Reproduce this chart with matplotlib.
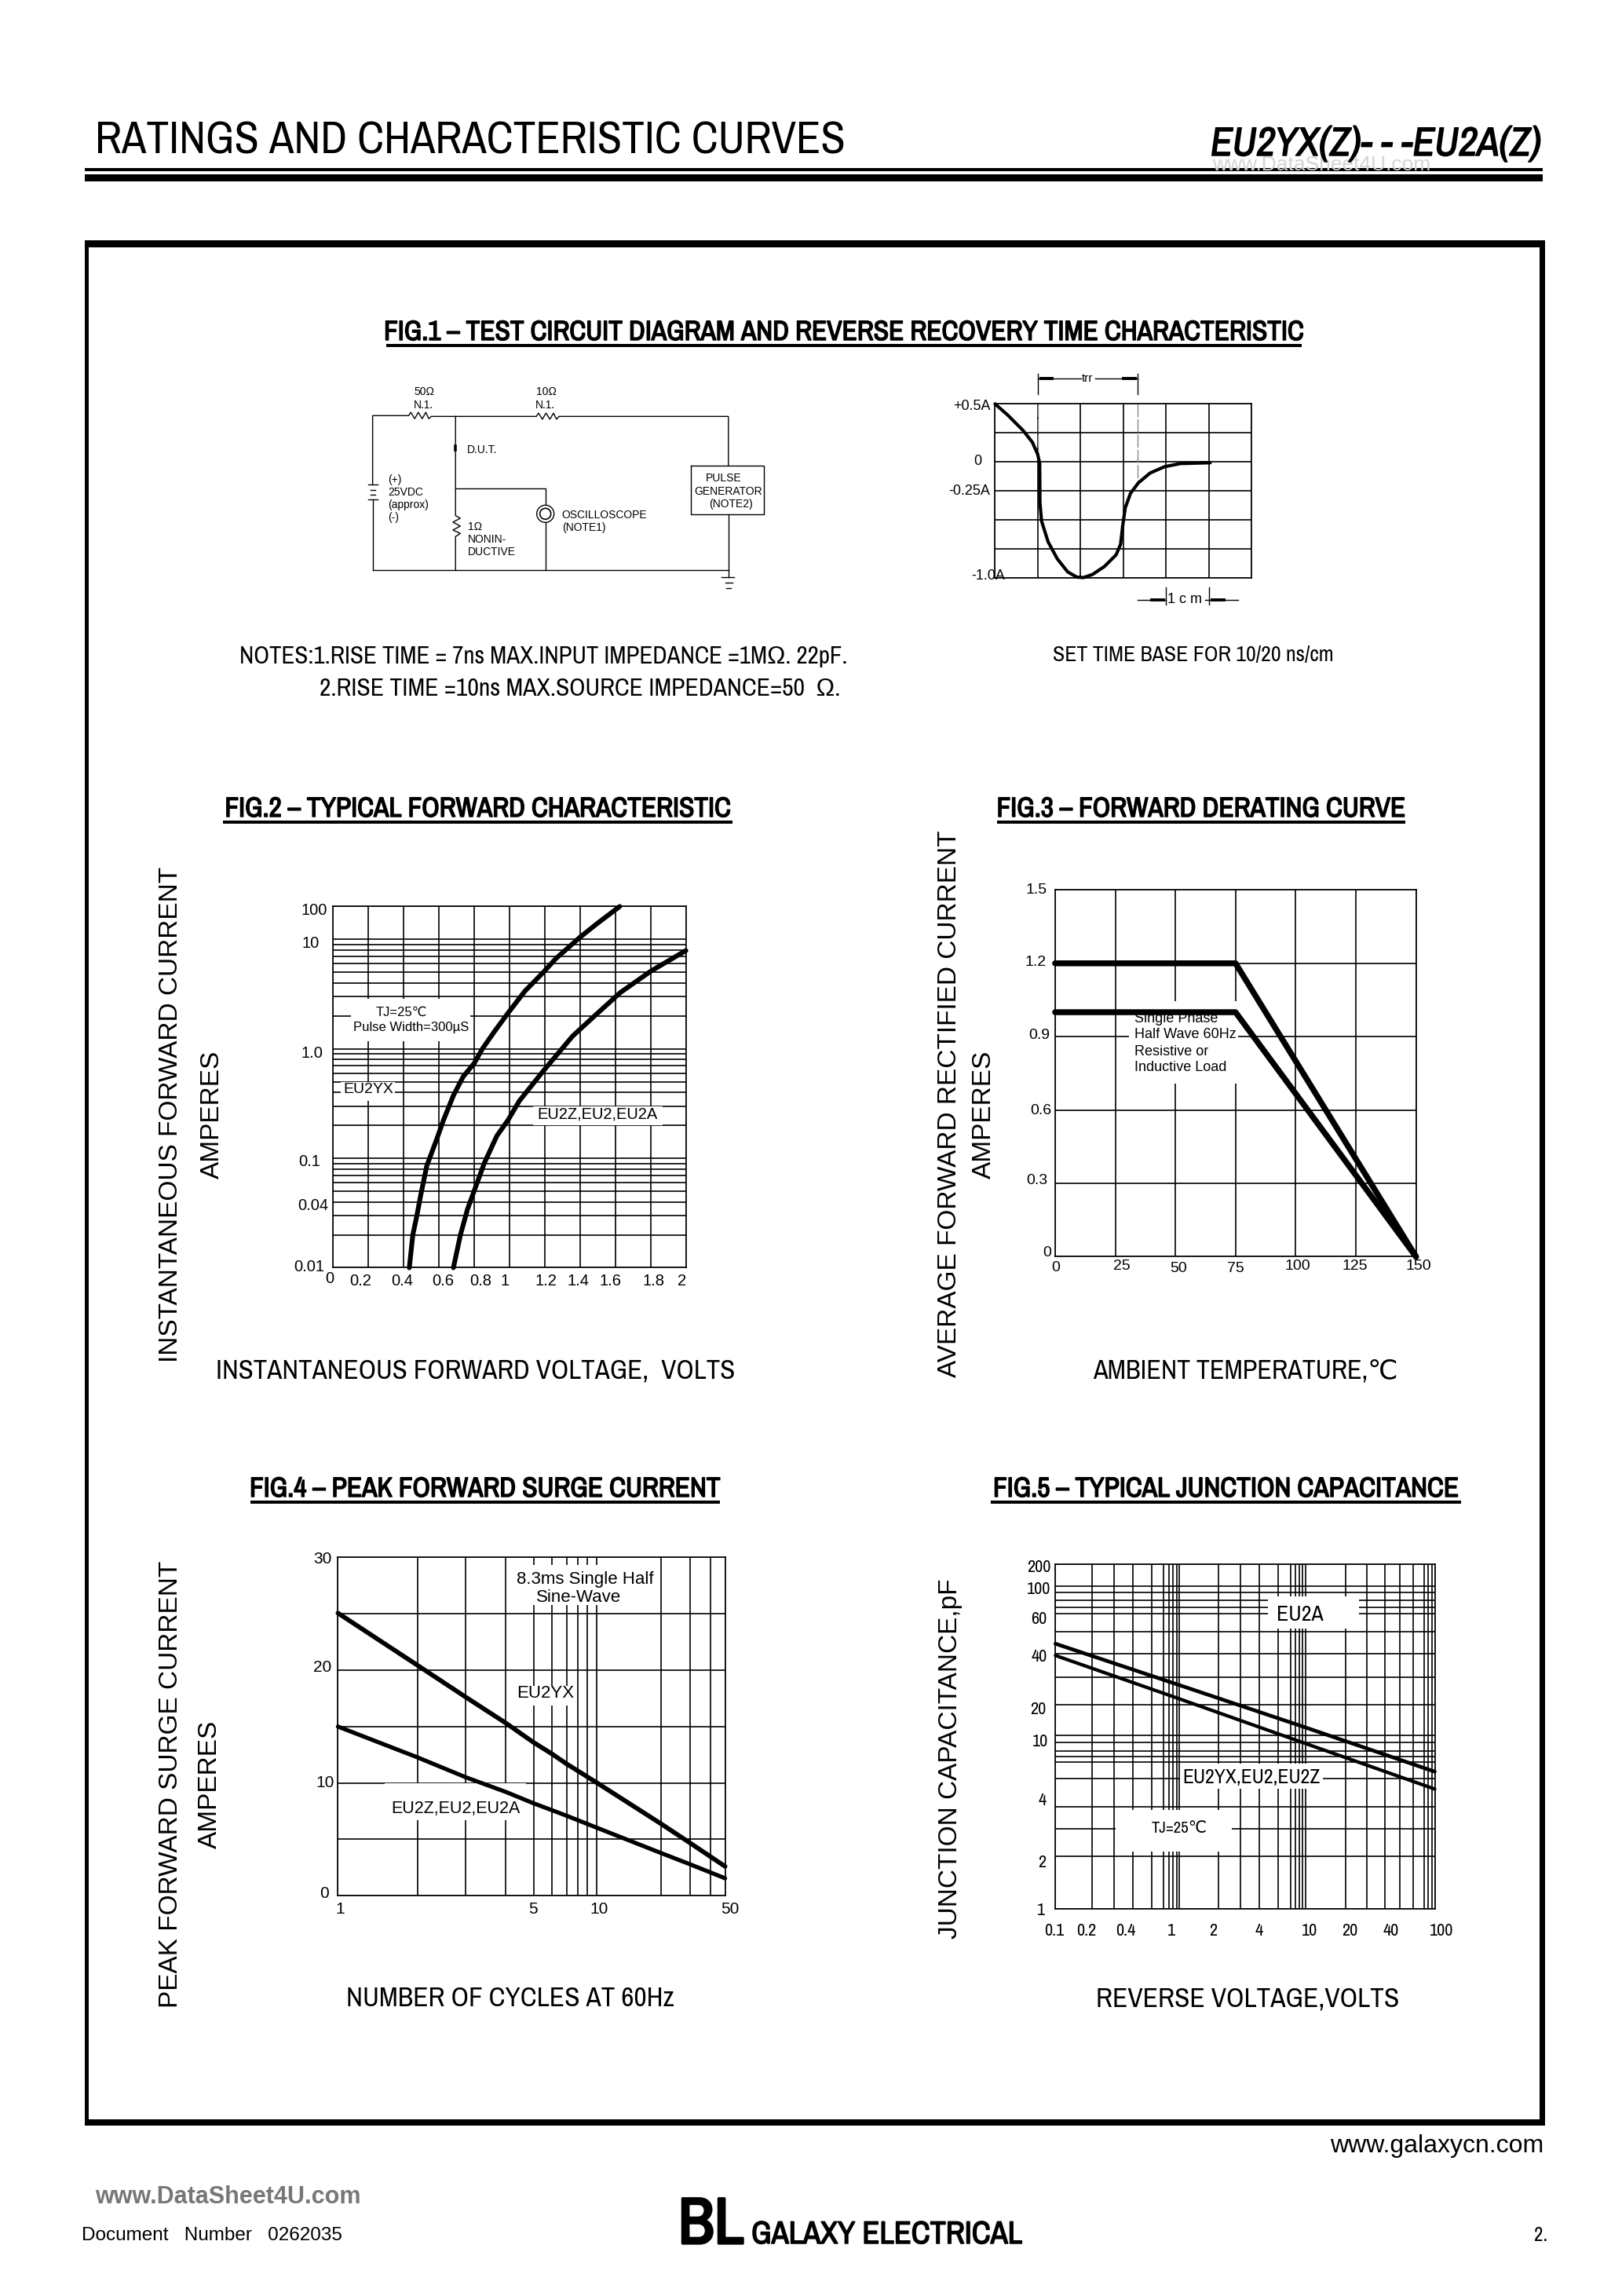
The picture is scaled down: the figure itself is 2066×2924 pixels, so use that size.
#datasheet page - ratings and characteristic curves
import numpy as np
import matplotlib
matplotlib.use('Agg')
from matplotlib import pyplot as plt
from matplotlib import patheffects as pe
from matplotlib.patches import Rectangle, Ellipse
from matplotlib.transforms import Affine2D

plt.rcParams['font.family'] = ['Liberation Sans', 'DejaVu Sans']
SANS = ['Liberation Sans', 'DejaVu Sans']
NARROW = ['Archivo Narrow', 'Liberation Sans', 'DejaVu Sans']

#fig.1 reverse recovery waveform (cm, amps)
wave_x = [0, .294, .66, .875, .997, 1.046, 1.052, 1.088, 1.242, 1.456, 1.70, 1.914, 2.067,
          2.281, 2.557, 2.83, 2.936, 2.985, 3.046, 3.168, 3.352, 3.627, 3.963, 4.33, 5.03]
wave_y = [.5, .405, .27, .169, .068, -.011, -.349, -.507, -.687, -.833, -.946, -.991, -.995,
          -.968, -.90, -.80, -.709, -.552, -.394, -.27, -.18, -.095, -.041, -.014, -.007]
wave_yticks = [.5, .25, 0, -.25, -.5, -.75, -1.0]
wave_ylabels = ['+0.5A', '', '0', '-0.25A', '', '', '-1.0A']

#fig.2 forward characteristic
yx_volts = [.432, .452, .475, .496, .531, .591, .626, .682, .738, .801, .846, .913, .992,
            1.087, 1.191, 1.262, 1.397, 1.493, 1.625]
yx_amps = [.01, .02, .03, .0455, .0853, .155, .224, .375, .56, .743, 1.0, 1.43, 2.13,
           3.37, 5.0, 6.67, 11.4, 29.3, 100]
za_volts = [.682, .722, .762, .801, .857, .928, .992, 1.056, 1.191, 1.358, 1.485, 1.628, 1.803, 2.0]
za_amps = [.01, .02, .0343, .051, .0902, .16, .224, .335, .627, 1.31, 2.02, 3.27, 5.16, 7.92]
f2_xticks = [0, .2, .4, .6, .8, 1, 1.2, 1.4, 1.6, 1.8, 2]
f2_xlabels = ['0', '0.2', '0.4', '0.6', '0.8', '1', '1.2', '1.4', '1.6', '1.8', '2']
f2_yticks = [.01, .04, .1, 1, 10, 100]
f2_ylabels = ['0.01', '0.04', '0.1', '1.0', '10', '100']

#fig.3 derating
temp = [0, 75, 150]
derate_high = [1.2, 1.2, 0]
derate_low = [1.0, 1.0, 0]
f3_xticks = [0, 25, 50, 75, 100, 125, 150]
f3_yticks = [0, .3, .6, .9, 1.2, 1.5]
f3_ylabels = ['0', '0.3', '0.6', '0.9', '1.2', '1.5']

#fig.4 surge current
cycles = [1, 2, 3, 4, 5, 6, 7, 10, 20, 30, 50]
surge_yx = [25.06, 20.4, 17.6, 15.3, 13.6, 12.6, 11.7, 10.05, 6.4, 4.7, 2.6]
surge_za = [15.0, 12.25, 10.5, 9.2, 8.2, 7.6, 7.1, 6.05, 3.8, 2.8, 1.55]
f4_xticks = [1, 5, 10, 50]
f4_yticks = [0, 10, 20, 30]

#fig.5 junction capacitance
volts = [.1, 1, 10, 100]
cap_a = [44.4, 27, 12.4, 5.44]
cap_yx = [39.1, 22, 8.9, 4.64]
f5_xticks = [.1, .2, .4, 1, 2, 4, 10, 20, 40, 100]
f5_xlabels = ['0.1', '0.2', '0.4', '1', '2', '4', '10', '20', '40', '100']
f5_yticks = [1, 2, 4, 10, 20, 40, 60, 100, 200]

#the printed grids are not true log spacing, so keep where each line sits (px from the axis)
f4_x_vals = [1, 2, 3, 4, 5, 6, 7, 8, 9, 10, 20, 30, 40, 50]
f4_x_pos = [0, 102, 163, 214, 249, 272, 291, 305, 317, 329, 411, 448, 474, 493]
f5_x_vals = [.1, .2, .3, .4, .5, .6, .7, .8, .9, 1, 2, 3, 4, 5, 6, 7, 8, 9, 10,
             20, 30, 40, 50, 60, 70, 80, 90, 100]
f5_x_pos = [0, 47, 75, 99, 123, 138, 145, 150, 155, 158, 208, 236, 260, 284, 300, 306, 311,
            315, 319, 370, 397, 420, 439, 456, 470, 475, 480, 483]
f5_y_vals = [1, 2, 3, 4, 5, 6, 7, 8, 9, 10, 20, 30, 40, 50, 60, 70, 80, 90, 100, 200]
f5_y_pos = [0, 67, 102, 130, 166, 187, 194, 201, 212, 222, 261, 296, 326, 354, 377, 385, 394,
            404, 412, 440]

#page setup, everything placed in reference pixels
W, H = 2066, 2924
GRID = 1.2
fig = plt.figure(figsize=(W / 100, H / 100), dpi=100, facecolor='white')
page = fig.add_axes([0, 0, 1, 1])
page.set_xlim(0, W)
page.set_ylim(H, 0)
page.axis('off')
page.set_zorder(10)
#archivo narrow only comes in one weight here, so thicken it with a stroke for the bold text
heavy = [pe.withStroke(linewidth=1.1, foreground='black')]


def txt(x, y, s, size, ha='center', va='center', family=NARROW, **kw):
    return page.text(x, y, s, fontsize=size, ha=ha, va=va, family=family, **kw)


def bar(x0, x1, y0, y1):
    page.add_patch(Rectangle((x0, y0), x1 - x0, y1 - y0, fc='black', ec='none'))


def chart(left, right, top, bottom):
    ax = fig.add_axes([left / W, 1 - bottom / H, (right - left) / W, (bottom - top) / H])
    ax.set_axisbelow(True)
    for s in ax.spines.values():
        s.set_linewidth(GRID)
    return ax


def finish(ax, xoffs, yoffs, size, family=SANS):
    #turn the ticks into bare grid lines and nudge each label to where it was printed
    ax.grid(True, which='both', color='black', lw=GRID)
    ax.tick_params(which='both', length=0, pad=0)
    for lab, (dx, dy) in zip(ax.get_xticklabels(), xoffs):
        lab.set_fontsize(size)
        lab.set_family(family)
        lab.set_verticalalignment('center')
        lab.set_transform(lab.get_transform() + Affine2D().translate(dx, dy))
    for lab, (dx, dy) in zip(ax.get_yticklabels(), yoffs):
        lab.set_fontsize(size)
        lab.set_family(family)
        lab.set_transform(lab.get_transform() + Affine2D().translate(dx, dy))


def blank(ax, x0, x1, y0, y1):
    #white patch behind an in-chart note, cuts the grid but not the curves
    ax.add_patch(Rectangle((x0, y0), x1 - x0, y1 - y0, fc='white', ec='none', zorder=1,
                           transform=page.transData))


def knot_scale(vals, pos):
    return (lambda v: np.interp(v, vals, pos), lambda p: np.interp(p, pos, vals))


def curve(ax, x, y, lw):
    ax.plot(x, y, color='black', lw=lw, zorder=3, clip_on=False, solid_capstyle='round',
            solid_joinstyle='round')


#header
txt(121, 196, 'RATINGS AND CHARACTERISTIC CURVES', 41.3, ha='left', va='baseline')
txt(1544, 210, 'www.DataSheet4U.com', 19, ha='left', color='#d4d4d4', family=SANS)
txt(1542, 198, 'EU2YX(Z)- - -EU2A(Z)', 37, ha='left', va='baseline', style='italic', path_effects=heavy)
bar(108, 1965, 214, 218)
bar(108, 1965, 222, 231)

#outer box
bar(108, 1968, 306, 315)
bar(108, 1968, 2699, 2707)
bar(108, 113, 306, 2707)
bar(1961, 1968, 306, 2707)

#figure titles with their underlines
titles = [('FIG.1 – TEST CIRCUIT DIAGRAM AND REVERSE RECOVERY TIME CHARACTERISTIC', 492, 1658, 423),
          ('FIG.2 – TYPICAL FORWARD CHARACTERISTIC', 284, 933, 1030),
          ('FIG.3 – FORWARD DERATING CURVE', 1270, 1790, 1030),
          ('FIG.4 – PEAK FORWARD SURGE CURRENT', 319, 917, 1896),
          ('FIG.5 – TYPICAL JUNCTION CAPACITANCE', 1262, 1861, 1896)]
for s, x0, x1, y in titles:
    txt((x0 + x1) / 2, y, s, 25.4, path_effects=heavy)
    bar(x0, x1, y + 15, y + 19)

#notes under fig.1
txt(692, 836, 'NOTES:1.RISE TIME = 7ns MAX.INPUT IMPEDANCE =1MΩ. 22pF.', 22.3)
txt(739, 877, '2.RISE TIME =10ns MAX.SOURCE IMPEDANCE=50  Ω.', 22.8)
txt(1520, 834, 'SET TIME BASE FOR 10/20 ns/cm', 20)

#axis titles
txt(218, 1419, 'INSTANTANEOUS FORWARD CURRENT', 24, rotation=90, family=SANS)
txt(270, 1419, 'AMPERES', 24, rotation=90, family=SANS)
txt(606, 1745, 'INSTANTANEOUS FORWARD VOLTAGE,  VOLTS', 25.1)
txt(1210, 1406, 'AVERAGE FORWARD RECTIFIED CURRENT', 24, rotation=90, family=SANS)
txt(1253, 1419, 'AMPERES', 24, rotation=90, family=SANS)
txt(1586, 1745, 'AMBIENT TEMPERATURE,℃', 24.6)
txt(218, 2272, 'PEAK FORWARD SURGE CURRENT', 24, rotation=90, family=SANS)
txt(267, 2272, 'AMPERES', 24, rotation=90, family=SANS)
txt(650, 2545, 'NUMBER OF CYCLES AT 60Hz', 25.4)
txt(1210, 2240, 'JUNCTION CAPACITANCE,pF', 24, rotation=90, family=SANS)
txt(1589, 2545, 'REVERSE VOLTAGE,VOLTS', 25.4)

#footer
txt(1966, 2733, 'www.galaxycn.com', 23, ha='right', family=SANS)
txt(121, 2798, 'www.DataSheet4U.com', 22, ha='left', color='#777777', family=SANS, weight='bold')
txt(104, 2847, 'Document   Number   0262035', 17.5, ha='left', family=SANS)
txt(864, 2857, 'BL', 60, ha='left', va='baseline', path_effects=[pe.withStroke(linewidth=2.4, foreground='black')])
txt(957, 2857, 'GALAXY ELECTRICAL', 29, ha='left', va='baseline', path_effects=heavy)
txt(1971, 2847, '2.', 18, ha='right')


#fig.1 circuit diagram, traced in crop coordinates
def cz(x, y):
    return 400 + x / 2.613, 440 + y / 3


def wire(points, lw=1.0):
    xs, ys = zip(*[cz(*p) for p in points])
    page.plot(xs, ys, color='black', lw=lw, solid_joinstyle='miter')


wire([(195, 859), (195, 587)])
wire([(195, 532), (195, 268), (315, 268), (322, 255), (335, 280), (347, 255), (360, 280),
      (372, 255), (382, 280), (390, 271), (740, 271), (747, 258), (760, 282), (772, 258),
      (785, 282), (797, 258), (807, 282), (815, 271), (1379, 271), (1379, 460)])
wire([(1255, 460), (1498, 460), (1498, 646), (1255, 646), (1255, 460)])
wire([(1379, 646), (1379, 885)])
wire([(195, 859), (1379, 859)])
wire([(471, 271), (471, 650), (487, 660), (462, 675), (487, 690), (462, 705), (487, 718),
      (471, 730), (471, 859)])
wire([(471, 545), (770, 545), (770, 612)])
wire([(770, 675), (770, 859)])
wire([(180, 532), (212, 532)])
wire([(188, 553), (205, 553)])
wire([(188, 570), (205, 570)])
wire([(180, 587), (212, 587)])
wire([(1355, 885), (1398, 885)])
wire([(1368, 907), (1392, 907)])
wire([(1372, 926), (1388, 926)])
wire([(471, 384), (471, 398)], lw=2.6)
cx, cy = cz(770, 643)
page.add_patch(Ellipse((cx, cy), 22, 22, fc='white', ec='black', lw=1.0, zorder=3))
page.add_patch(Ellipse((cx, cy), 14, 14, fc='white', ec='black', lw=1.2, zorder=3))

circuit_labels = [('50Ω', 367, 178, 'center'), ('N.1.', 365, 227, 'center'),
                  ('10Ω', 772, 178, 'center'), ('N.1.', 770, 227, 'center'),
                  ('D.U.T.', 510, 400, 'left'), ('(+)', 245, 513, 'left'),
                  ('25VDC', 245, 560, 'left'), ('(approx)', 245, 608, 'left'),
                  ('(-)', 245, 657, 'left'), ('1Ω', 513, 693, 'left'),
                  ('NONIN-', 513, 742, 'left'), ('DUCTIVE', 513, 790, 'left'),
                  ('OSCILLOSCOPE', 825, 648, 'left'), ('(NOTE1)', 825, 697, 'left'),
                  ('PULSE', 1363, 507, 'center'), ('GENERATOR', 1378, 558, 'center'),
                  ('(NOTE2)', 1388, 605, 'center')]
for s, x, y, ha in circuit_labels:
    px, py = cz(x, y)
    txt(px, py, s, 10, ha=ha, family=SANS)

#fig.1 waveform
ax1 = chart(1267.3, 1594.3, 514.3, 736.3)
ax1.set_xlim(0, 6)
ax1.set_ylim(-1, .5)
ax1.set_xticks(range(7), labels=[''] * 7)
ax1.set_yticks(wave_yticks, labels=wave_ylabels)
finish(ax1, [(0, 0)] * 7, [(-6, -1), (0, 0), (-17, 3), (-6, 2), (0, 0), (0, 0), (13, 5)], 13)
curve(ax1, wave_x, wave_y, 3)
ax1.plot([1.009, 1.009], [.5, .07], color='#888888', lw=1.0, ls=(0, (12, 2)), zorder=2)
ax1.plot([3.34, 3.34], [.5, -.18], color='#888888', lw=1.0, ls=(0, (12, 2)), zorder=2)

#dimension marks around the waveform
for x0, x1, y0, y1 in [(1322.3, 1322.3, 476, 501.7), (1449.3, 1449.3, 476, 501.7),
                       (1322.3, 1377, 482.3, 482.3), (1395, 1449.3, 482.3, 482.3),
                       (1485.3, 1485.3, 748.3, 770), (1540.3, 1540.3, 748.3, 770),
                       (1449.3, 1485.3, 764, 764), (1535, 1576.7, 764, 764)]:
    page.plot([x0, x1], [y0, y1], color='black', lw=1.0)
for x0, x1, y0 in [(1326, 1340, 482.3), (1431, 1446, 482.3), (1467, 1482, 764), (1544, 1559, 764)]:
    page.plot([x0, x1], [y0, y0], color='black', lw=2.8)
txt(1385, 482, 'trr', 11, family=SANS)
txt(1509, 764, '1 c m', 13, family=SANS)

#fig.2
ax2 = chart(424.3, 873.6, 1154.4, 1614.5)
#the top decade is printed squashed into 0.3 of a decade
f2_fwd = lambda v: np.interp(np.log10(np.clip(v, 1e-4, None)), [-2, 1, 2], [-2, 1, 1.302])
f2_inv = lambda p: 10 ** np.interp(p, [-2, 1, 1.302], [-2, 1, 2])
ax2.set_yscale('function', functions=(f2_fwd, f2_inv))
curve(ax2, yx_volts, yx_amps, 4.4)
curve(ax2, za_volts, za_amps, 4.4)
ax2.set_xlim(0, 2)
ax2.set_ylim(.01, 100)
ax2.set_xticks(f2_xticks, labels=f2_xlabels)
ax2.set_yticks(f2_yticks, labels=f2_ylabels)
ax2.set_yticks([m * 10.0 ** e for e in (-2, -1, 0) for m in range(2, 10) if m * 10.0 ** e != .04],
               minor=True)
finish(ax2, [(-4, -14), (-10, -17), (-2, -17), (5, -17), (8, -17), (-6, -17), (2, -17), (-2, -17),
             (-6, -17), (4, -17), (-5, -17)],
       [(-11, 3), (-6, -3), (-16, -2), (-13, -4), (-18, -3), (-7, -3)], 14.5)
blank(ax2, 447, 599, 1271.5, 1325.6)
blank(ax2, 433.6, 502.5, 1378, 1401.7)
blank(ax2, 679.3, 843.6, 1409.3, 1432.7)
txt(511, 1289, 'TJ=25℃', 12, family=SANS)
txt(524, 1308, 'Pulse Width=300µS', 12, family=SANS)
txt(469, 1387, 'EU2YX', 14, family=SANS)
txt(761, 1419, 'EU2Z,EU2,EU2A', 14.5, family=SANS)

#fig.3
ax3 = chart(1343.9, 1803.6, 1133.4, 1600.4)
curve(ax3, temp, derate_high, 5.4)
curve(ax3, temp, derate_low, 5.4)
ax3.set_xlim(0, 150)
ax3.set_ylim(0, 1.5)
ax3.set_xticks(f3_xticks, labels=[str(t) for t in f3_xticks])
ax3.set_yticks(f3_yticks, labels=f3_ylabels)
finish(ax3, [(1, -14), (8, -12), (4, -15), (0, -15), (2.5, -12), (-1.5, -12), (3.5, -12)],
       [(-5, 6.5), (-10, 5.5), (-5, 1), (-7, 4), (-11, 3), (-10, 2)], 14)
blank(ax3, 1437.5, 1576.8, 1275.3, 1380.3)
for s, y in [('Single Phase', 1298), ('Half Wave 60Hz', 1318), ('Resistive or', 1339),
             ('Inductive Load', 1360)]:
    txt(1444.6, y, s, 13, ha='left', family=SANS)

#fig.4
ax4 = chart(430.4, 923.6, 1983.3, 2414.3)
ax4.set_xscale('function', functions=knot_scale(f4_x_vals, f4_x_pos))
curve(ax4, cycles, surge_yx, 4.2)
curve(ax4, cycles, surge_za, 3.8)
ax4.set_xlim(1, 50)
ax4.set_ylim(0, 30)
ax4.set_xticks(f4_xticks, labels=[str(c) for c in f4_xticks])
ax4.set_xticks([c for c in f4_x_vals if c not in f4_xticks], minor=True)
ax4.set_yticks(f4_yticks, labels=[str(c) for c in f4_yticks])
ax4.set_yticks([5, 15, 25], minor=True)
finish(ax4, [(2.5, -17), (-1, -17), (4, -17), (6, -17)],
       [(-12, 5), (-5, 2), (-8, 5), (-8, 0)], 15)
blank(ax4, 650.7, 836.4, 1993.3, 2044.3)
blank(ax4, 656, 734.6, 2146.7, 2171.7)
blank(ax4, 490, 670.4, 2271, 2317.7)
txt(745, 2011, '8.3ms Single Half', 16, family=SANS)
txt(737, 2034, 'Sine-Wave', 16, family=SANS)
txt(695, 2157, 'EU2YX', 16, family=SANS)
txt(580, 2303, 'EU2Z,EU2,EU2A', 15.5, family=SANS)

#fig.5
ax5 = chart(1344.3, 1827.5, 1991.7, 2431.3)
ax5.set_xscale('function', functions=knot_scale(f5_x_vals, f5_x_pos))
ax5.set_yscale('function', functions=knot_scale(f5_y_vals, f5_y_pos))
curve(ax5, volts, cap_a, 3.4)
curve(ax5, volts, cap_yx, 3.1)
ax5.set_xlim(.1, 100)
ax5.set_ylim(1, 200)
ax5.set_xticks(f5_xticks, labels=f5_xlabels)
ax5.set_xticks([v for v in f5_x_vals if v not in f5_xticks], minor=True)
ax5.set_yticks(f5_yticks, labels=[str(v) for v in f5_yticks])
ax5.set_yticks([v for v in f5_y_vals if v not in f5_yticks], minor=True)
finish(ax5, [(-2, -28), (-8, -28), (-10, -28), (-10, -28), (-7, -28), (-1, -28), (5, -28), (5, -28),
             (7.5, -28), (9, -28)],
       [(-13, 0), (-12, -6), (-12, 10), (-9, -6), (-12, -4), (-11, -2), (-11, -5), (-6, -2), (-6, -2)],
       16, family=NARROW)
blank(ax5, 1615.4, 1731.4, 2033.3, 2074)
blank(ax5, 1502.9, 1685, 2246, 2278.3)
blank(ax5, 1420.7, 1568.9, 2305, 2358.3)
txt(1656, 2056, 'EU2A', 20)
txt(1594, 2264, 'EU2YX,EU2,EU2Z', 18.5)
txt(1502, 2328, 'TJ=25℃', 15)

plt.savefig('out.png', dpi=100)
